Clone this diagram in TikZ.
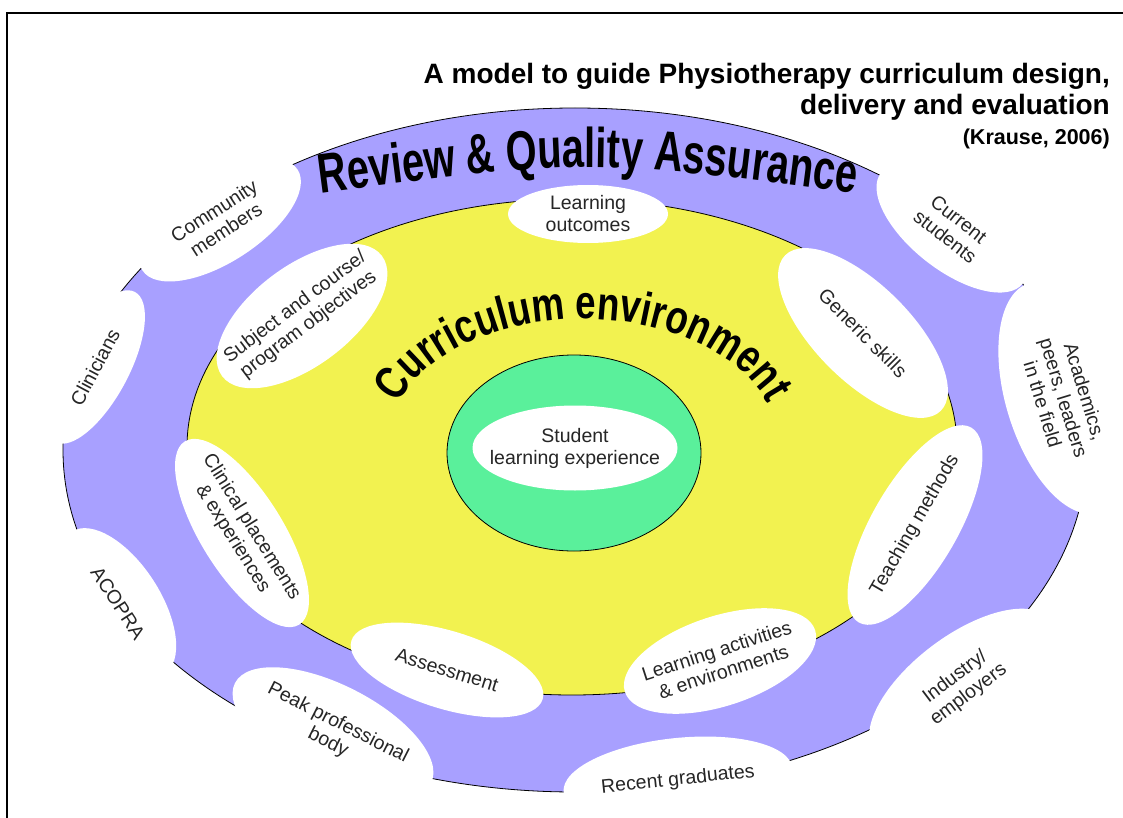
\documentclass[tikz,border=0pt]{standalone}
\usepackage{fontspec}
\setmainfont{Liberation Sans}
\newfontfamily\narrowfont[FakeStretch=0.78]{Liberation Sans}
\newfontfamily\reviewfont[FakeStretch=0.71]{Liberation Sans}
\usetikzlibrary{shapes.geometric,decorations.text}

\definecolor{reviewblue}{RGB}{168,160,255}
\definecolor{envyellow}{RGB}{242,242,80}
\definecolor{studentgreen}{RGB}{90,240,155}

\tikzset{
  bubble/.style={ellipse, fill=white, inner sep=-80pt, align=center,
    text=black!85, font=\fontsize{19.5}{22}\selectfont},
  ring/.style={draw=black, line width=0.8pt},
  titletext/.style={anchor=base east, inner sep=0pt, font=\bfseries\fontsize{28}{30}\selectfont}
}

\begin{document}
\begin{tikzpicture}[x=1pt, y=-1pt]
\useasboundingbox (0,0) rectangle (1123,818);
\draw[line width=2pt] (7,840) -- (7,13) -- (1140,13);   % frame

% title
\node[titletext] (title1) at (1110,84) {A model to guide Physiotherapy curriculum design,};
\node[titletext] (title2) at (1110,115) {delivery and evaluation};
\node[titletext, font=\bfseries\fontsize{21.5}{24}\selectfont] (source) at (1110,145) {(Krause, 2006)};

% the three rings
\draw[ring, fill=reviewblue] (575,450) ellipse [x radius=512, y radius=342];
\draw[ring, fill=envyellow] (572,447) ellipse [x radius=385, y radius=248];
\draw[ring, fill=studentgreen] (574,453) ellipse [x radius=127, y radius=98];

% outer ring: who reviews
\node[bubble, minimum width=185pt, minimum height=84pt, rotate=33] (community) at (220,220) {Community\\members};
\node[bubble, minimum width=180pt, minimum height=84pt, rotate=-38] (current) at (952,228) {Current\\students};
\node[bubble, minimum width=170pt, minimum height=68pt, rotate=62] (clinicians) at (95,367) {Clinicians};
\node[bubble, minimum width=240pt, minimum height=116pt, rotate=-73] (academics) at (1064,398) {Academics,\\peers, leaders\\in the field};
\node[bubble, minimum width=170pt, minimum height=84pt, rotate=-57] (acopra) at (118,603) {ACOPRA};
\node[bubble, minimum width=220pt, minimum height=96pt, rotate=-27] (peak) at (333,733) {Peak professional\\body};
\node[bubble, minimum width=230pt, minimum height=84pt, rotate=6] (graduates) at (678,780) {Recent graduates};
\node[bubble, minimum width=220pt, minimum height=100pt, rotate=37] (industry) at (962,686) {Industry/\\employers};

% inner ring: curriculum elements
\node[bubble, minimum width=160pt, minimum height=58pt] (outcomes) at (588,214) {Learning\\outcomes};
\node[bubble, minimum width=220pt, minimum height=96pt, rotate=-45] (generic) at (863,333) {Generic skills};
\node[bubble, minimum width=225pt, minimum height=86pt, rotate=60] (teaching) at (915,525) {Teaching methods};
\node[bubble, minimum width=200pt, minimum height=90pt, rotate=18] (activities) at (720,661) {Learning activities\\\& environments};
\node[bubble, minimum width=200pt, minimum height=78pt, rotate=-17] (assessment) at (447,670) {Assessment};
\node[bubble, minimum width=216pt, minimum height=82pt, rotate=-58] (clinical) at (242,533) {Clinical placements\\\& experiences};
\node[bubble, minimum width=200pt, minimum height=100pt, rotate=37] (subject) at (302,316) {Subject and course/\\program objectives};

% centre
\node[bubble, minimum width=205pt, minimum height=85pt] (student) at (575,448) {Student\\learning experience};

% curved headings
\path[decorate, decoration={text along path, text align=center,
  text={|\reviewfont\bfseries\fontsize{56}{56}\selectfont|Review {\&} Quality Assurance}}]
  (300,196) .. controls (588,158) .. (876,196);
\path[decorate, decoration={text along path, text align=center,
  text={|\narrowfont\bfseries\fontsize{47}{47}\selectfont|Curriculum environment}}]
  (388,443) arc[start angle=180, end angle=360, x radius=195, y radius=124];
\end{tikzpicture}
\end{document}
